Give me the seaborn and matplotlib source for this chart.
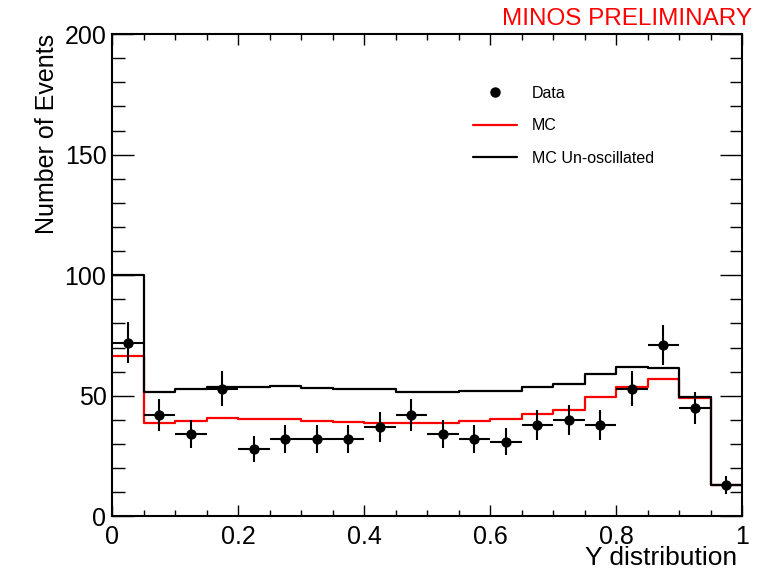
import numpy as np
import pandas as pd
import seaborn as sns
import matplotlib.pyplot as plt
from matplotlib.ticker import MultipleLocator
from matplotlib.lines import Line2D

# 20 bins of Y, width 0.05
bin_edges = [0.0, 0.05, 0.1, 0.15, 0.2, 0.25, 0.3, 0.35, 0.4, 0.45, 0.5,
             0.55, 0.6, 0.65, 0.7, 0.75, 0.8, 0.85, 0.9, 0.95, 1.0]
bin_centers = [0.025, 0.075, 0.125, 0.175, 0.225, 0.275, 0.325, 0.375, 0.425, 0.475,
               0.525, 0.575, 0.625, 0.675, 0.725, 0.775, 0.825, 0.875, 0.925, 0.975]
data_counts = [72, 42, 34, 53, 28, 32, 32, 32, 37, 42,
               34, 32, 31, 38, 40, 38, 53, 71, 45, 13]
data_err = [8.5, 6.5, 5.8, 7.3, 5.3, 5.7, 5.7, 5.7, 6.1, 6.5,
            5.8, 5.7, 5.6, 6.2, 6.3, 6.2, 7.3, 8.4, 6.7, 3.6]
mc_osc = [66.6, 38.7, 39.7, 40.9, 40.5, 40.2, 39.7, 39.1, 38.7, 38.7,
          38.7, 39.7, 40.2, 42.3, 44.2, 49.5, 53.5, 56.8, 49.0, 13.0]
mc_unosc = [100.0, 51.7, 52.8, 53.7, 53.5, 54.1, 53.3, 52.8, 52.8, 51.7,
            51.4, 52.2, 52.2, 53.6, 55.1, 59.0, 62.0, 61.6, 49.7, 13.0]

sns.set_style("ticks")
plt.rcParams["font.family"] = ["Liberation Sans Narrow", "Liberation Sans", "DejaVu Sans"]
for key in ["text.color", "axes.labelcolor", "xtick.color", "ytick.color", "axes.edgecolor"]:
    plt.rcParams[key] = "black"

df = pd.DataFrame({"y": bin_centers, "data": data_counts, "err": data_err,
                   "mc": mc_osc, "unosc": mc_unosc})

fig = plt.figure(figsize=(7.58, 5.72), dpi=100)
ax = fig.add_axes([0.1478, 0.0972, 0.8311, 0.8433])

sns.histplot(data=df, x="y", weights="mc", bins=bin_edges, element="step",
             fill=False, color="red", linewidth=1.6, ax=ax)
sns.histplot(data=df, x="y", weights="unosc", bins=bin_edges, element="step",
             fill=False, color="black", linewidth=1.6, ax=ax)
ax.errorbar(df["y"], df["data"], yerr=df["err"], xerr=0.025, fmt="none",
            ecolor="black", elinewidth=1.5, capsize=0, zorder=4)
sns.scatterplot(data=df, x="y", y="data", color="black", s=55, edgecolor="black",
                linewidth=0, zorder=5, ax=ax)

ax.set_xlim(0, 1)
ax.set_ylim(0, 200)
ax.xaxis.set_major_locator(MultipleLocator(0.2))
ax.xaxis.set_minor_locator(MultipleLocator(0.05))
ax.yaxis.set_major_locator(MultipleLocator(50))
ax.yaxis.set_minor_locator(MultipleLocator(10))
ax.xaxis.set_major_formatter(plt.FuncFormatter(lambda v, p: f"{v:g}"))
ax.tick_params(axis="both", which="both", direction="in", top=True, right=True,
               width=1.0, labelsize=18, colors="black")
ax.tick_params(axis="x", which="major", length=8, pad=6)
ax.tick_params(axis="x", which="minor", length=4)
ax.tick_params(axis="y", which="major", length=16, pad=4)
ax.tick_params(axis="y", which="minor", length=9)
for sp in ax.spines.values():
    sp.set_linewidth(1.5)
    sp.set_color("black")

ax.set_xlabel("Y distribution", fontsize=19, loc="right", labelpad=-1)
ax.xaxis.set_label_coords(0.992, -0.062)
ax.set_ylabel("Number of Events", fontsize=18, loc="top")

handles = [
    Line2D([], [], marker="o", color="black", linestyle="none", markersize=6.5),
    Line2D([], [], color="red", linewidth=1.6),
    Line2D([], [], color="black", linewidth=1.6),
]
ax.legend(handles, ["Data", "MC", "MC Un-oscillated"], loc="upper left",
          bbox_to_anchor=(0.573, 0.893), frameon=False,
          prop={"family": ["Liberation Sans", "DejaVu Sans"], "size": 11.5},
          handlelength=2.75, handletextpad=0.95, labelspacing=1.1,
          borderpad=0, borderaxespad=0)

fig.text(0.992, 0.957, "MINOS PRELIMINARY", color="red", fontsize=17.5,
         ha="right", va="baseline")

fig.savefig("out.png", dpi=100)
